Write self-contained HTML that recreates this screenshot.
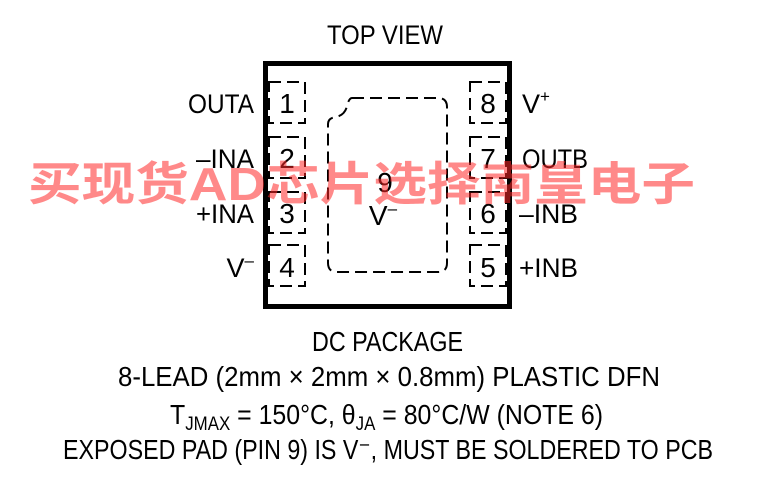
<!DOCTYPE html>
<html><head><meta charset="utf-8"><style>html,body{margin:0;padding:0;background:#fff}svg{display:block}</style></head>
<body>
<svg width="757" height="477" viewBox="0 0 757 477" xmlns="http://www.w3.org/2000/svg" font-family="Liberation Sans, sans-serif" fill="#000">
<rect x="265.5" y="63.5" width="244" height="243" fill="none" stroke="#000" stroke-width="5"/>
<g fill="none" stroke="#000" stroke-width="2" stroke-dasharray="12,6">
<rect x="269" y="82" width="36" height="41"/>
<rect x="269" y="137" width="36" height="41"/>
<rect x="269" y="192" width="36" height="41"/>
<rect x="269" y="245" width="36" height="41"/>
<rect x="470" y="82" width="36" height="41"/>
<rect x="470" y="137" width="36" height="41"/>
<rect x="470" y="192" width="36" height="41"/>
<rect x="470" y="245" width="36" height="41"/>
<path d="M352,98 L438,98 Q447,98 447,107 L447,263 Q447,272 438,272 L337,272 Q328,272 328,263 L328,124 Q328,118 336,117 Q345,115 347,106 Q349,98 352,98"/>
</g>
<g font-size="28" text-anchor="middle">
<text x="287" y="113">1</text><text x="287" y="168">2</text><text x="287" y="223">3</text><text x="287" y="277">4</text>
<text x="488" y="113">8</text><text x="488" y="168">7</text><text x="488" y="223">6</text><text x="488" y="277">5</text>
<text x="385" y="192">9</text><text x="383" y="225">V<tspan font-size="17" dy="-11">–</tspan></text>
</g>
<g font-size="27" text-anchor="end">
<text x="254" y="113" textLength="66" lengthAdjust="spacingAndGlyphs">OUTA</text>
<text x="254" y="168" textLength="58" lengthAdjust="spacingAndGlyphs">–INA</text>
<text x="254" y="223" textLength="58" lengthAdjust="spacingAndGlyphs">+INA</text>
<text x="254" y="277">V<tspan font-size="17" dy="-11">–</tspan></text>
</g>
<g font-size="27">
<text x="522" y="113">V<tspan font-size="17" dy="-11">+</tspan></text>
<text x="522" y="168" textLength="66" lengthAdjust="spacingAndGlyphs">OUTB</text>
<text x="519" y="223" textLength="59" lengthAdjust="spacingAndGlyphs">–INB</text>
<text x="519" y="277" textLength="59" lengthAdjust="spacingAndGlyphs">+INB</text>
</g>
<text x="327" y="44" font-size="27" textLength="116" lengthAdjust="spacingAndGlyphs">TOP VIEW</text>
<text x="312" y="351" font-size="28" textLength="151" lengthAdjust="spacingAndGlyphs">DC PACKAGE</text>
<text x="118" y="386" font-size="28" textLength="542" lengthAdjust="spacingAndGlyphs">8-LEAD (2mm × 2mm × 0.8mm) PLASTIC DFN</text>
<text x="170" y="424" font-size="28" textLength="433" lengthAdjust="spacingAndGlyphs">T<tspan font-size="19" dy="6">JMAX</tspan><tspan dy="-6"> = 150°C, θ</tspan><tspan font-size="19" dy="6">JA</tspan><tspan dy="-6"> = 80°C/W (NOTE 6)</tspan></text>
<text x="63" y="459" font-size="28" textLength="650" lengthAdjust="spacingAndGlyphs">EXPOSED PAD (PIN 9) IS V⁻, MUST BE SOLDERED TO PCB</text>
<text x="28" y="200" font-size="46" font-weight="bold" fill="rgba(255,40,40,0.55)" font-family="Liberation Sans, Noto Sans CJK SC, sans-serif" textLength="667" lengthAdjust="spacingAndGlyphs">买现货AD芯片选择南皇电子</text>
</svg>
</body></html>
